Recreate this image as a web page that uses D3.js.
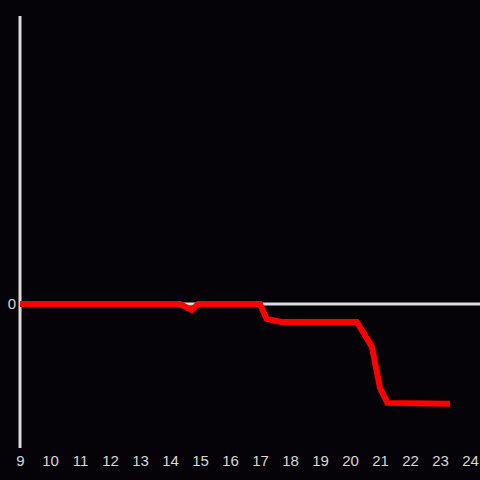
<!DOCTYPE html>
<html>
<head>
<meta charset="utf-8">
<script src="https://cdn.jsdelivr.net/npm/d3@7"></script>
<style>
  html, body { margin: 0; padding: 0; background: #050308; }
  svg { display: block; }
</style>
</head>
<body>
<div class="box"></div>
<script>
// hours along x, values along y
const hours  = [9, 14.33, 14.72, 14.94, 17.0, 17.22, 17.72, 20.23, 20.73, 21.0, 21.25, 23.33];
const values = [0, 0, -0.125, 0, 0, -0.31, -0.375, -0.375, -0.89, -1.75, -2.06, -2.08];
const xTicks = d3.range(9, 25);
const yTicks = [0];

const w = 480;
const h = 480;

const xScale = d3.scaleLinear()
                .domain([9, 24])
                .range([20, 470]);

const yScale = d3.scaleLinear()
                .domain([-3, 6])
                .range([448, 16]);

const svg = d3.select(".box")
            .append("svg")
            .attr("width", w)
            .attr("height", h)
            .style("background", "#050308");

// y axis line
svg.append("line")
    .attr("x1", xScale(9)).attr("x2", xScale(9))
    .attr("y1", yScale.range()[1]).attr("y2", yScale.range()[0])
    .attr("stroke", "#dcdcdc")
    .attr("stroke-width", 3);

// zero line
svg.append("line")
    .attr("x1", xScale(9)).attr("x2", w)
    .attr("y1", yScale(0)).attr("y2", yScale(0))
    .attr("stroke", "#dcdcdc")
    .attr("stroke-width", 3);

// tick labels only
const xAxis = d3.axisBottom(xScale).tickValues(xTicks).tickSize(0).tickPadding(7).tickFormat(d3.format("d"));
const yAxis = d3.axisLeft(yScale).tickValues(yTicks).tickSize(0).tickPadding(4);

function styleAxis(g) {
    g.select(".domain").remove();
    g.attr("font-size", 15)
     .attr("font-family", "'Liberation Sans', Arial, sans-serif");
    g.selectAll("text").attr("fill", "#d8d8d8");
}

svg.append("g")
    .attr("transform", "translate(0," + yScale.range()[0] + ")")
    .call(xAxis)
    .call(styleAxis);

svg.append("g")
    .attr("transform", "translate(" + xScale(9) + ",0)")
    .call(yAxis)
    .call(styleAxis);

// the red line
const line = d3.line()
    .x((d, i) => xScale(hours[i]))
    .y((d) => yScale(d));

svg.append("path")
    .datum(values)
    .attr("d", line)
    .attr("fill", "none")
    .attr("stroke", "#ff0000")
    .attr("stroke-width", 6)
    .attr("stroke-linejoin", "miter");
</script>
</body>
</html>
